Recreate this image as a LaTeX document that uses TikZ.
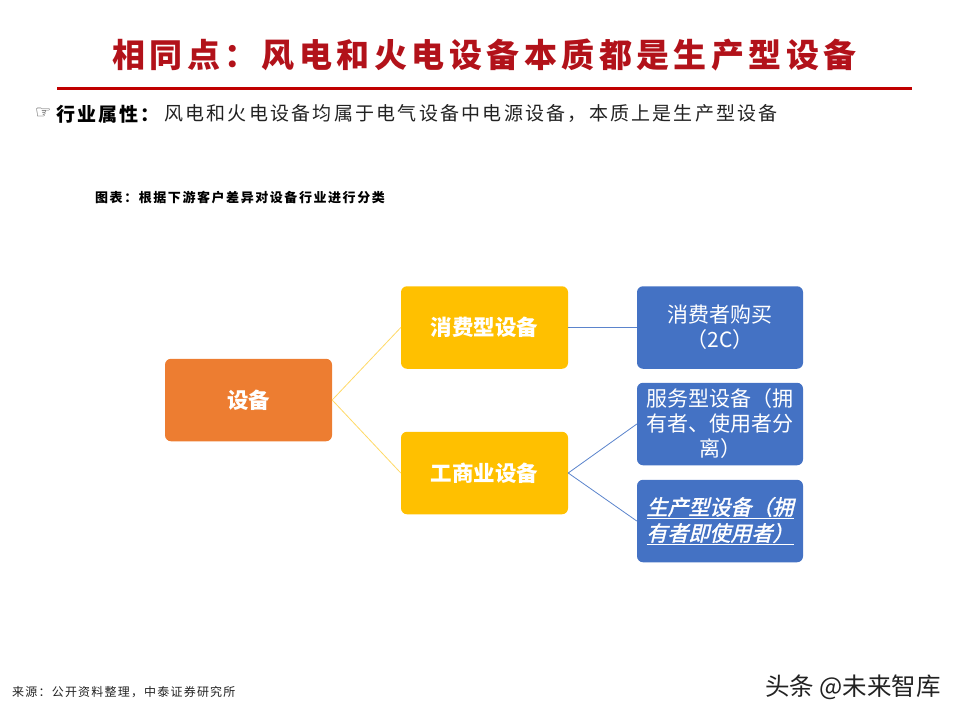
\documentclass[tikz,border=0pt]{standalone}
\usepackage{fontspec}
\setmainfont{Noto Sans CJK SC}
\newfontfamily\symfont{DejaVu Sans}
\newfontfamily\slantfont{Noto Sans CJK SC}[FakeSlant=0.24,FakeBold=1.6]
\newcommand{\fwcolon}{\symbol{"FF1A}}
\newcommand{\fwcomma}{\symbol{"FF0C}}
\newcommand{\fwopen}{\symbol{"FF08}}
\newcommand{\fwclose}{\symbol{"FF09}}
\definecolor{titlered}{HTML}{B2121A}
\definecolor{linered}{HTML}{C00000}
\definecolor{orangebox}{HTML}{ED7D31}
\definecolor{yellowbox}{HTML}{FFC000}
\definecolor{bluebox}{HTML}{4472C4}
\definecolor{lightyellow}{HTML}{FFD966}
\definecolor{linkblue}{HTML}{5B84CC}
\definecolor{darktext}{HTML}{222222}
\tikzset{
  x=1pt,y=-1pt,
  boxbase/.style={rounded corners=6pt,minimum height=82.5pt,inner sep=0pt,align=center,text=white,font=\fontsize{21}{25}\selectfont},
  orangenode/.style={boxbase,fill=orangebox,minimum width=167pt,font=\fontsize{21.5}{25}\selectfont\bfseries},
  yellownode/.style={boxbase,fill=yellowbox,minimum width=167pt,font=\fontsize{21.5}{25}\selectfont\bfseries},
  bluenode/.style={boxbase,fill=bluebox,minimum width=166pt},
  ylink/.style={draw=lightyellow,line width=0.8pt},
  blink/.style={draw=linkblue,line width=0.8pt},
  plain/.style={inner sep=0pt,anchor=west,text=darktext},
}
\begin{document}
\begin{tikzpicture}
\useasboundingbox (0,0) rectangle (960,720);
\node[plain,text=titlered,font=\fontsize{33}{36}\selectfont\bfseries\addfontfeature{LetterSpace=13.5}] (title) at (112,55) {相同点\fwcolon 风电和火电设备本质都是生产型设备};
\coordinate (ruleL) at (57,88);
\coordinate (ruleR) at (912,88);
\draw[linered,line width=3pt] (ruleL) -- (ruleR);
\node[plain,font=\symfont\fontsize{18}{20}\selectfont] (hand) at (35,113) {☞};
\node[plain,text=black,font=\fontsize{19}{22}\selectfont\bfseries\addfontfeature{LetterSpace=11}] (attr) at (56,114) {行业属性\fwcolon};
\node[plain,font=\fontsize{19}{22}\selectfont\addfontfeature{LetterSpace=11.8}] (desc) at (164,114) {风电和火电设备均属于电气设备中电源设备\fwcomma 本质上是生产型设备};
\node[plain,text=black,font=\fontsize{13}{16}\selectfont\bfseries\addfontfeature{LetterSpace=12}] (cap) at (95,198) {图表\fwcolon 根据下游客户差异对设备行业进行分类};
\node[orangenode] (dev) at (248.5,400) {设备};
\node[yellownode] (cons) at (484.5,327.5) {消费型设备};
\node[yellownode] (ind) at (484.5,473) {工商业设备};
\node[bluenode] (buy) at (720,327.5) {消费者购买\\\fwopen 2C\fwclose};
\node[bluenode] (svc) at (720,424) {服务型设备\fwopen 拥\\有者、使用者分\\离\fwclose};
\node[bluenode,font=\slantfont\fontsize{21}{26}\selectfont] (prod) at (720,521) {\underline{生产型设备\fwopen 拥}\\\underline{有者即使用者\fwclose}};
\draw[ylink] (dev.east) -- (cons.west);
\draw[ylink] (dev.east) -- (ind.west);
\draw[blink] (cons.east) -- (buy.west);
\draw[blink] (ind.east) -- (svc.west);
\draw[blink] (ind.east) -- (prod.west);
\node[plain,font=\fontsize{12}{14}\selectfont\addfontfeature{LetterSpace=10}] (src) at (12,692) {来源\fwcolon 公开资料整理\fwcomma 中泰证券研究所};
\node[plain,font=\fontsize{24.5}{26}\selectfont] (wm) at (765,687) {头条 @未来智库};
\end{tikzpicture}
\end{document}
